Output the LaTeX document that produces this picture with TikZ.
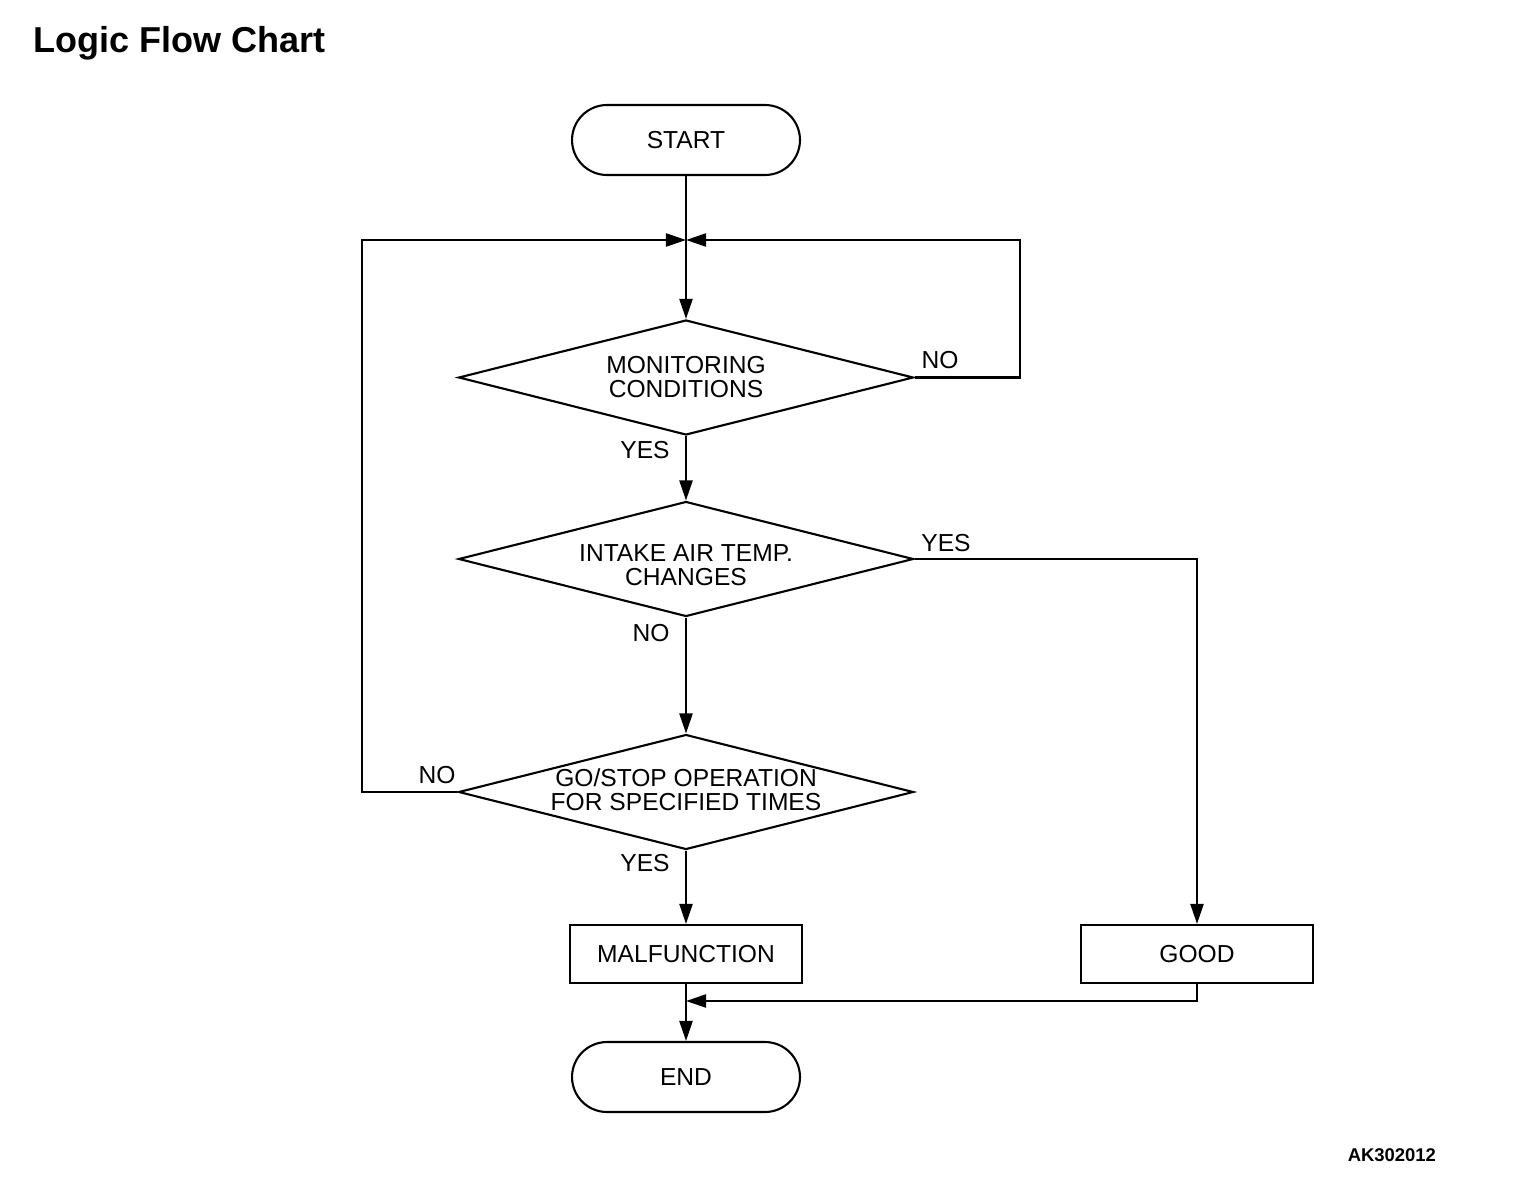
\documentclass[tikz,border=0pt]{standalone}
\usepackage{fontspec}
\setmainfont{Liberation Sans}
\usetikzlibrary{shapes.geometric,arrows.meta}
\begin{document}
\begin{tikzpicture}[x=0.02cm,y=-0.02cm,
  line width=1.2pt,line join=miter,
  every node/.style={font=\fontsize{14}{13.6}\selectfont},
  term/.style={draw,rectangle,rounded corners=0.7cm,minimum width=4.56cm,minimum height=1.4cm,inner sep=0pt},
  proc/.style={draw,rectangle,minimum width=4.64cm,minimum height=1.16cm,inner sep=0pt},
  dec/.style={draw,diamond,minimum width=9.1cm,minimum height=2.3cm,inner sep=0pt},
  dtext/.style={align=center,inner sep=0pt},
  lbl/.style={inner sep=0pt},
  arr/.style={-{Triangle[length=11.5pt,width=7.5pt]}}]
\useasboundingbox (0,0) rectangle (1520,1186);
\node[anchor=west,inner sep=0pt,font=\fontsize{20.5}{23}\selectfont\bfseries] (title) at (32,43) {Logic Flow Chart};
\node[term] (start) at (686,140) {START};
\node[dec] (d1) at (686,377.5) {};
\node[dtext] (t1) at (686,377) {MONITORING\\CONDITIONS};
\node[dec] (d2) at (686,559) {};
\node[dtext] (t2) at (686,565) {INTAKE AIR TEMP.\\CHANGES};
\node[dec] (d3) at (686,792) {};
\node[dtext] (t3) at (686,790) {GO/STOP OPERATION\\FOR SPECIFIED TIMES};
\node[proc] (mal) at (686,954) {MALFUNCTION};
\node[proc] (good) at (1197,954) {GOOD};
\node[term] (end) at (686,1077) {END};
\coordinate (j) at (686,240);
\coordinate (jr) at (1020,240);
\coordinate (jl) at (362,240);
\coordinate (m1) at (686,1001);
\coordinate (g1) at (1197,1001);
\draw[arr] (start.south) -- (d1.north);
\draw[arr] (d1.east) -- (jr |- d1.east) -- (jr) -- (j);
\draw[arr] (d3.west) -- (jl |- d3.west) -- (jl) -- (j);
\draw[arr] (d1.south) -- (d2.north);
\draw[arr] (d2.south) -- (d3.north);
\draw[arr] (d3.south) -- (mal.north);
\draw[arr] (d2.east) -- (good.north |- d2.east) -- (good.north);
\draw[arr] (mal.south) -- (end.north);
\draw[arr] (good.south) -- (g1) -- (m1);
\node[lbl] (n1) at (940,360) {NO};
\node[lbl] (y1) at (645,450) {YES};
\node[lbl] (y2) at (946,543) {YES};
\node[lbl] (n2) at (651,633) {NO};
\node[lbl] (n3) at (437,775) {NO};
\node[lbl] (y3) at (645,863) {YES};
\node[anchor=east,inner sep=0pt,font=\fontsize{10.5}{12}\selectfont\bfseries] (code) at (1437,1155) {AK302012};
\end{tikzpicture}
\end{document}
